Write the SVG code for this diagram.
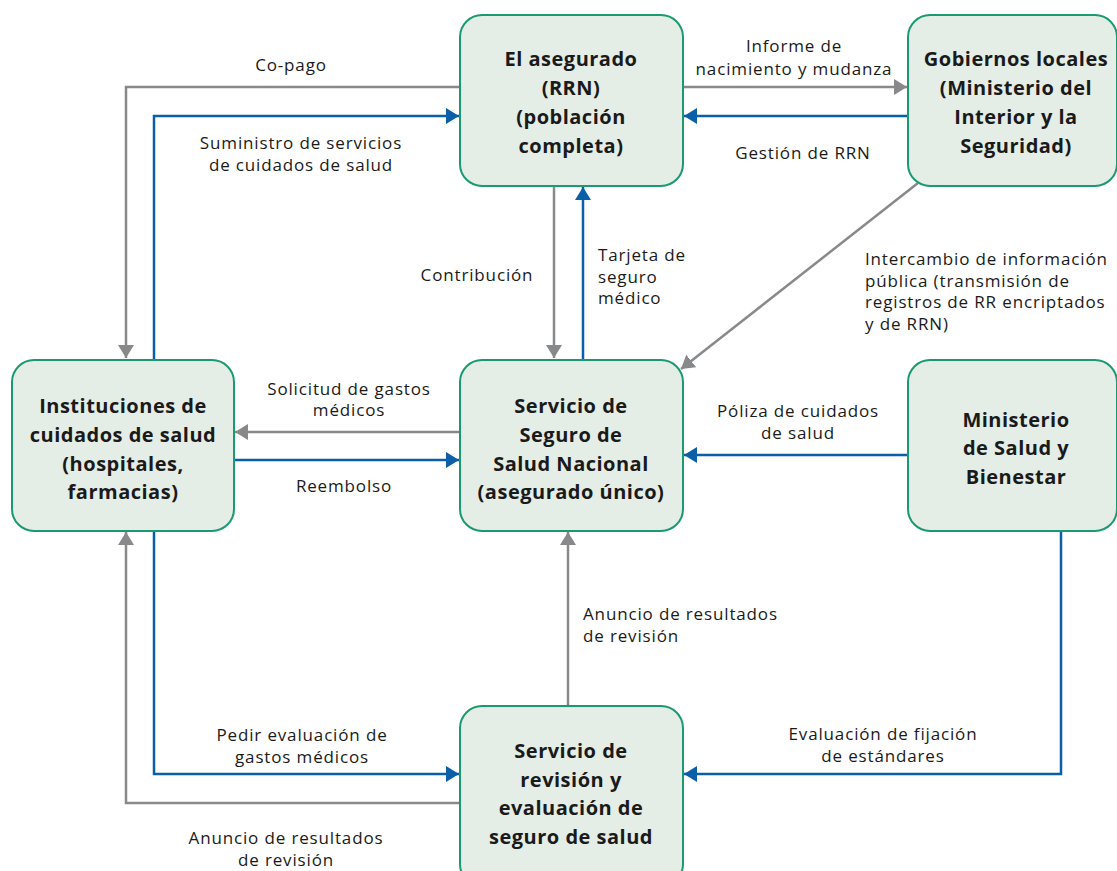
<svg xmlns="http://www.w3.org/2000/svg" width="1117" height="871" viewBox="0 0 1117 871">
<style>
.box{fill:#e4ede6;stroke:#1b9a72;stroke-width:2}
.nt{font-family:"Open Sans","Liberation Sans",sans-serif;font-weight:700;font-size:20px;letter-spacing:0.5px;fill:#1a1a1a;text-anchor:middle}
.lb{font-family:"Open Sans","Liberation Sans",sans-serif;font-size:17px;letter-spacing:0.85px;fill:#1a1a1a}
.c{text-anchor:middle}
.g{fill:none;stroke:#88898b;stroke-width:2.5}
.b{fill:none;stroke:#0b5ea8;stroke-width:2.5}
</style>
<defs>
<marker id="ag" markerUnits="userSpaceOnUse" markerWidth="13" markerHeight="16" refX="13" refY="8" orient="auto"><path d="M0,0 L13,8 L0,16 z" fill="#88898b"/></marker>
<marker id="ab" markerUnits="userSpaceOnUse" markerWidth="13" markerHeight="16" refX="13" refY="8" orient="auto"><path d="M0,0 L13,8 L0,16 z" fill="#0b5ea8"/></marker>
</defs>
<rect width="1117" height="871" fill="#fff"/>
<g id="connectors">
<path class="g" d="M460,87 H126 V358" marker-end="url(#ag)"/>
<path class="b" d="M154,360 V116 H459" marker-end="url(#ab)"/>
<path class="g" d="M683,87 H907" marker-end="url(#ag)"/>
<path class="b" d="M908,116 H684" marker-end="url(#ab)"/>
<path class="g" d="M554,186 V358" marker-end="url(#ag)"/>
<path class="b" d="M583,360 V187" marker-end="url(#ab)"/>
<path class="g" d="M918,183 L681,369" marker-end="url(#ag)"/>
<path class="g" d="M460,432 H235" marker-end="url(#ag)"/>
<path class="b" d="M234,460 H459" marker-end="url(#ab)"/>
<path class="b" d="M908,455 H684" marker-end="url(#ab)"/>
<path class="g" d="M568,706 V532" marker-end="url(#ag)"/>
<path class="b" d="M1061,531 V774 H684" marker-end="url(#ab)"/>
<path class="b" d="M154,531 V774 H459" marker-end="url(#ab)"/>
<path class="g" d="M460,803 H126 V532" marker-end="url(#ag)"/>
<text class="lb c" x="291" y="71">Co-pago</text>
<text class="lb c" x="794" y="52">Informe de</text>
<text class="lb c" x="794" y="75">nacimiento y mudanza</text>
<text class="lb c" x="301" y="149">Suministro de servicios</text>
<text class="lb c" x="301" y="171">de cuidados de salud</text>
<text class="lb c" x="803" y="159">Gestión de RRN</text>
<text class="lb c" x="477" y="281">Contribución</text>
<text class="lb" x="598" y="261">Tarjeta de</text>
<text class="lb" x="598" y="283">seguro</text>
<text class="lb" x="598" y="304">médico</text>
<text class="lb" x="865" y="265">Intercambio de información</text>
<text class="lb" x="865" y="287">pública (transmisión de</text>
<text class="lb" x="865" y="308">registros de RR encriptados</text>
<text class="lb" x="865" y="330">y de RRN)</text>
<text class="lb c" x="349" y="395">Solicitud de gastos</text>
<text class="lb c" x="349" y="416">médicos</text>
<text class="lb c" x="344" y="492">Reembolso</text>
<text class="lb c" x="798" y="417">Póliza de cuidados</text>
<text class="lb c" x="798" y="439">de salud</text>
<text class="lb" x="583" y="620">Anuncio de resultados</text>
<text class="lb" x="583" y="642">de revisión</text>
<text class="lb c" x="883" y="740">Evaluación de fijación</text>
<text class="lb c" x="883" y="762">de estándares</text>
<text class="lb c" x="302" y="741">Pedir evaluación de</text>
<text class="lb c" x="302" y="763">gastos médicos</text>
<text class="lb c" x="286" y="844">Anuncio de resultados</text>
<text class="lb c" x="286" y="866">de revisión</text>
</g>
<g id="asegurado">
<rect class="box" x="460" y="15" width="223" height="171" rx="22"/>
<text class="nt" x="571" y="66">El asegurado</text>
<text class="nt" x="571" y="95">(RRN)</text>
<text class="nt" x="571" y="124">(población</text>
<text class="nt" x="571" y="153">completa)</text>
</g>
<g id="gobiernos">
<rect class="box" x="908" y="15" width="209" height="171" rx="22"/>
<text class="nt" x="1016" y="66">Gobiernos locales</text>
<text class="nt" x="1016" y="95">(Ministerio del</text>
<text class="nt" x="1016" y="124">Interior y la</text>
<text class="nt" x="1016" y="153">Seguridad)</text>
</g>
<g id="instituciones">
<rect class="box" x="12" y="360" width="222" height="171" rx="22"/>
<text class="nt" x="123" y="413">Instituciones de</text>
<text class="nt" x="123" y="442">cuidados de salud</text>
<text class="nt" x="123" y="471">(hospitales,</text>
<text class="nt" x="123" y="499">farmacias)</text>
</g>
<g id="servicio">
<rect class="box" x="460" y="360" width="223" height="171" rx="22"/>
<text class="nt" x="571" y="413">Servicio de</text>
<text class="nt" x="571" y="442">Seguro de</text>
<text class="nt" x="571" y="471">Salud Nacional</text>
<text class="nt" x="571" y="499">(asegurado único)</text>
</g>
<g id="ministerio">
<rect class="box" x="908" y="360" width="209" height="171" rx="22"/>
<text class="nt" x="1016" y="427">Ministerio</text>
<text class="nt" x="1016" y="455">de Salud y</text>
<text class="nt" x="1016" y="484">Bienestar</text>
</g>
<g id="revision">
<rect class="box" x="460" y="706" width="223" height="180" rx="22"/>
<text class="nt" x="571" y="758">Servicio de</text>
<text class="nt" x="571" y="787">revisión y</text>
<text class="nt" x="571" y="815">evaluación de</text>
<text class="nt" x="571" y="844">seguro de salud</text>
</g>
</svg>
